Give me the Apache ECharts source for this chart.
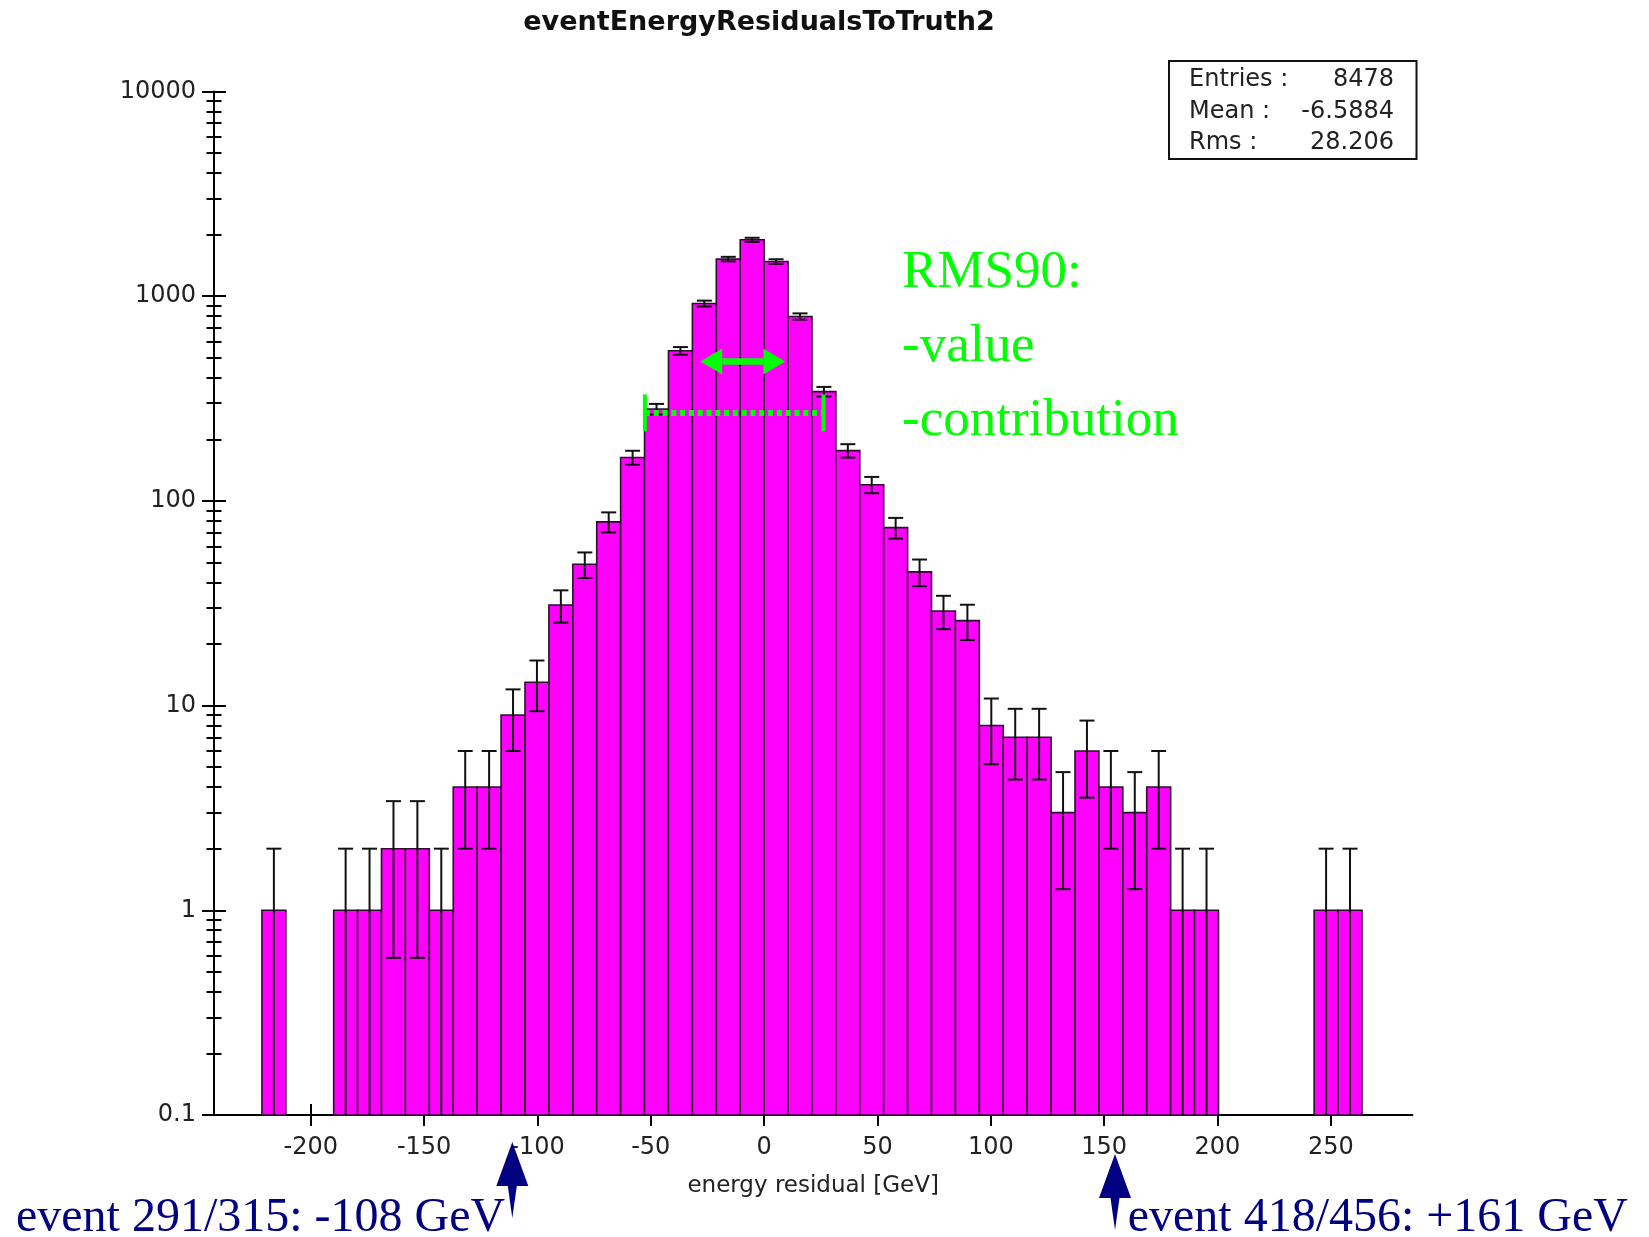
<!DOCTYPE html>
<html>
<head>
<meta charset="utf-8">
<title>eventEnergyResidualsToTruth2</title>
<script src="https://cdn.jsdelivr.net/npm/echarts@6/dist/echarts.min.js"></script>
<style>
  html, body { margin: 0; padding: 0; background: #fff; }
  #chart { width: 1649px; height: 1237px; }
</style>
</head>
<body>
<div id="chart"></div>
<script>
// histogram binning (GeV): equal bins starting at firstBinEdge
const firstBinEdge = -221.55;
const binWidth = 10.55;
const binCounts = [
  1, 0, 0, 1, 1, 2, 2, 1, 4, 4,
  9, 13, 31, 49, 79, 163, 281, 541, 921, 1518,
  1886, 1477, 796, 342, 176, 120, 74, 45, 29, 26,
  8, 7, 7, 3, 6, 4, 3, 4, 1, 1,
  0, 0, 0, 0, 1, 1
];
const xTickValues = [-200, -150, -100, -50, 0, 50, 100, 150, 200, 250];

const statsLabels = ['Entries :', 'Mean :', 'Rms :'];
const statsValues = ['8478', '-6.5884', '28.206'];

// hand drawn annotations (data coordinates)
const rms90Text = ['RMS90:', '-value', '-contribution'];
const rms90Window = [-52.6, 26.2];
const rms90WindowLevel = 269;
const rms90Arrow = [-28.2, 9.3];
const rms90ArrowLevel = 480;
const eventMarkX = [-111.1, 154.8];
const eventMarkText = ['event 291/315: -108 GeV', 'event 418/456: +161 GeV'];

const Y_MIN = 0.1, Y_MAX = 10000;
const X_MIN = -242.7, X_MAX = 286;

const histData = [];
binCounts.forEach((n, i) => {
  if (n > 0) {
    const lo = firstBinEdge + i * binWidth;
    histData.push([lo, lo + binWidth, n, Math.sqrt(n)]);
  }
});

function renderBin(params, api) {
  const x0 = api.value(0), x1 = api.value(1);
  const n = api.value(2), err = api.value(3);
  const tl = api.coord([x0, n]);
  const br = api.coord([x1, Y_MIN]);
  const xc = (x0 + x1) / 2;
  const hi = api.coord([xc, n + err]);
  const low = n - err;
  const lo = api.coord([xc, low > Y_MIN ? low : Y_MIN]);
  const ink = { stroke: '#111', lineWidth: 2 };
  const children = [
    {
      type: 'rect',
      shape: { x: tl[0], y: tl[1], width: br[0] - tl[0], height: br[1] - tl[1] },
      style: { fill: '#ff00ff', stroke: '#2a102a', lineWidth: 1.6 }
    },
    { type: 'line', shape: { x1: hi[0], y1: hi[1], x2: lo[0], y2: lo[1] }, style: ink },
    { type: 'line', shape: { x1: hi[0] - 7.5, y1: hi[1], x2: hi[0] + 7.5, y2: hi[1] }, style: ink }
  ];
  if (low > Y_MIN) {
    children.push({ type: 'line', shape: { x1: lo[0] - 7.5, y1: lo[1], x2: lo[0] + 7.5, y2: lo[1] }, style: ink });
  }
  return { type: 'group', children: children };
}

const axisFont = { fontFamily: 'DejaVu Sans', fontSize: 24, color: '#222' };
const black = { color: '#000', width: 2 };

const chart = echarts.init(document.getElementById('chart'));
const option = {
  animation: false,
  backgroundColor: '#fff',
  grid: { left: 214, right: 236.6, top: 91.5, bottom: 122 },
  xAxis: [
    {
      type: 'value', min: X_MIN, max: X_MAX, position: 'bottom',
      name: 'energy residual [GeV]', nameLocation: 'middle', nameGap: 60,
      nameTextStyle: { fontFamily: 'DejaVu Sans', fontSize: 23, color: '#222' },
      axisLine: { show: true, onZero: false, lineStyle: black },
      axisTick: { show: true, length: 11, lineStyle: black, customValues: xTickValues },
      axisLabel: { ...axisFont, margin: 21, customValues: xTickValues, formatter: v => String(v) },
      splitLine: { show: false }
    },
    {
      type: 'value', min: X_MIN, max: X_MAX, position: 'bottom',
      axisLine: { show: false, onZero: false },
      axisTick: { show: true, inside: true, length: 11, lineStyle: black, customValues: xTickValues },
      axisLabel: { show: false },
      splitLine: { show: false }
    }
  ],
  yAxis: [
    {
      type: 'log', logBase: 10, min: Y_MIN, max: Y_MAX, position: 'left',
      axisLine: { show: true, onZero: false, lineStyle: black },
      axisTick: { show: true, length: 12, lineStyle: black },
      minorTick: { show: true, splitNumber: 9, length: 7.5, lineStyle: black },
      axisLabel: { ...axisFont, margin: 18, formatter: v => String(+Number(v).toPrecision(6)) },
      splitLine: { show: false },
      minorSplitLine: { show: false }
    },
    {
      type: 'log', logBase: 10, min: Y_MIN, max: Y_MAX, position: 'left',
      axisLine: { show: false, onZero: false },
      axisTick: { show: true, inside: true, length: 12, lineStyle: black },
      minorTick: { show: true, splitNumber: 9, length: 7.5, lineStyle: black },
      axisLabel: { show: false },
      splitLine: { show: false },
      minorSplitLine: { show: false }
    }
  ],
  series: [{
    type: 'custom',
    name: 'eventEnergyResidualsToTruth2',
    xAxisIndex: 0,
    yAxisIndex: 0,
    renderItem: renderBin,
    encode: { x: [0, 1], y: 2 },
    data: histData,
    z: 3
  }]
};
chart.setOption(option);

// overlays: title, stats box, hand annotations
const toPx = (x, y) => chart.convertToPixel({ xAxisIndex: 0, yAxisIndex: 0 }, [x, y]);
const green = '#00ff00';
const navy = '#000080';
const graphics = [];

graphics.push({
  type: 'text', x: 759, y: 23,
  style: { text: 'eventEnergyResidualsToTruth2', align: 'center', verticalAlign: 'middle',
           fontFamily: 'DejaVu Sans', fontWeight: 'bold', fontSize: 27, fill: '#111' }
});

graphics.push({
  type: 'rect', shape: { x: 1169, y: 61, width: 247.5, height: 98 },
  style: { fill: '#fff', stroke: '#111', lineWidth: 2 }, z: 10
});
statsLabels.forEach((lab, i) => {
  const y = 80 + i * 31.5;
  graphics.push({ type: 'text', x: 1189, y: y, z: 11,
    style: { text: lab, align: 'left', verticalAlign: 'middle', fontFamily: 'DejaVu Sans', fontSize: 24, fill: '#222' } });
  graphics.push({ type: 'text', x: 1394, y: y, z: 11,
    style: { text: statsValues[i], align: 'right', verticalAlign: 'middle', fontFamily: 'DejaVu Sans', fontSize: 24, fill: '#222' } });
});

rms90Text.forEach((t, i) => {
  graphics.push({ type: 'text', x: 902, y: 273 + i * 73.8, z: 12,
    style: { text: t, align: 'left', verticalAlign: 'middle', fontFamily: 'Liberation Serif', fontSize: 53, fill: green } });
});

// dotted RMS90 window with end bars
const wl = toPx(rms90Window[0], rms90WindowLevel);
const wr = toPx(rms90Window[1], rms90WindowLevel);
graphics.push({ type: 'line', z: 12, shape: { x1: wl[0], y1: wl[1], x2: wr[0], y2: wr[1] },
  style: { stroke: green, lineWidth: 6, lineDash: [5, 3.8] } });
[wl, wr].forEach(p => {
  graphics.push({ type: 'line', z: 12, shape: { x1: p[0], y1: p[1] - 18.5, x2: p[0], y2: p[1] + 18.5 },
    style: { stroke: green, lineWidth: 4 } });
});

// double arrow
const al = toPx(rms90Arrow[0], rms90ArrowLevel);
const ar = toPx(rms90Arrow[1], rms90ArrowLevel);
const headLen = 22, headHalf = 13;
graphics.push({ type: 'line', z: 12, shape: { x1: al[0] + headLen, y1: al[1], x2: ar[0] - headLen, y2: ar[1] },
  style: { stroke: green, lineWidth: 6.5 } });
graphics.push({ type: 'polygon', z: 12,
  shape: { points: [[al[0], al[1]], [al[0] + headLen, al[1] - headHalf], [al[0] + headLen, al[1] + headHalf]] },
  style: { fill: green } });
graphics.push({ type: 'polygon', z: 12,
  shape: { points: [[ar[0], ar[1]], [ar[0] - headLen, ar[1] - headHalf], [ar[0] - headLen, ar[1] + headHalf]] },
  style: { fill: green } });

// event markers below the axis
const markTipY = [1142, 1154];
eventMarkX.forEach((gev, i) => {
  const x = toPx(gev, Y_MIN)[0];
  const t = markTipY[i];
  graphics.push({ type: 'polygon', z: 12,
    shape: { points: [[x, t], [x + 16, t + 44], [x + 4.5, t + 44], [x, t + 76], [x - 4.5, t + 44], [x - 16, t + 44]] },
    style: { fill: navy } });
});
graphics.push({ type: 'text', x: 16, y: 1218, z: 11,
  style: { text: eventMarkText[0], align: 'left', verticalAlign: 'middle', fontFamily: 'Liberation Serif', fontSize: 48, fill: navy } });
graphics.push({ type: 'text', x: 1628, y: 1218, z: 11,
  style: { text: eventMarkText[1], align: 'right', verticalAlign: 'middle', fontFamily: 'Liberation Serif', fontSize: 48, fill: navy } });

chart.setOption({ graphic: graphics });
</script>
</body>
</html>
